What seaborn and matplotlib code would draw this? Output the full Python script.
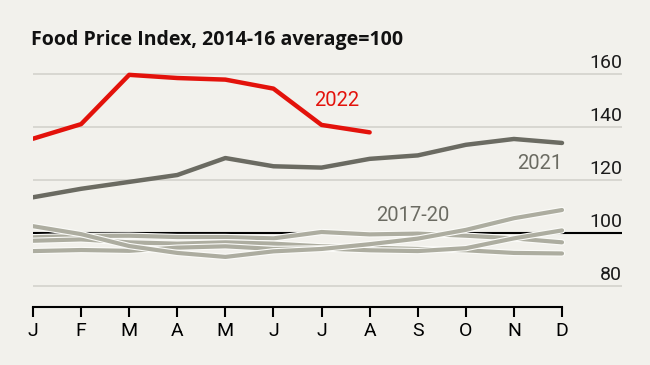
import pandas as pd
import numpy as np
import seaborn as sns
import matplotlib.pyplot as plt
import matplotlib.patheffects as pe

months = ['J', 'F', 'M', 'A', 'M', 'J', 'J', 'A', 'S', 'O', 'N', 'D']
y2022 = [135.6, 141.1, 159.7, 158.5, 157.9, 154.5, 140.8, 138.0]
y2021 = [113.5, 116.7, 119.3, 121.9, 128.3, 125.2, 124.7, 128.0, 129.3, 133.3, 135.5, 134.0]
y2020 = [102.6, 99.6, 95.1, 92.5, 91.0, 93.1, 94.0, 95.8, 97.9, 101.2, 105.6, 108.7]
y2019 = [93.2, 93.6, 93.3, 94.5, 95.0, 94.0, 94.2, 93.5, 93.2, 94.3, 98.0, 101.0]
y2018 = [97.1, 97.6, 96.5, 96.0, 96.5, 96.0, 95.0, 94.5, 94.0, 93.5, 92.5, 92.3]
y2017 = [98.4, 98.9, 99.0, 98.5, 98.5, 98.0, 100.4, 99.5, 99.8, 99.0, 98.0, 96.5]
yticks = [80, 100, 120, 140, 160]

bg = '#f2f1ec'
red = '#e3120b'
dark = '#6b6b62'
light = '#adada0'

# long form table for seaborn
rows = []
for name, vals in [('2017', y2017), ('2018', y2018), ('2019', y2019), ('2020', y2020),
                   ('2021', y2021), ('2022', y2022)]:
    for i, v in enumerate(vals):
        rows.append({'year': name, 'month': i, 'value': v})
data = pd.DataFrame(rows)

sns.set_style('white')
plt.rcParams['font.family'] = ['Roboto', 'DejaVu Sans']

fig = plt.figure(figsize=(6.5, 3.65), dpi=100, facecolor=bg)
ax = fig.add_axes([33 / 650, 1 - 307 / 365, (622 - 33) / 650, (307 - 60) / 365])
ax.set_facecolor(bg)

right = 11 + 60 / 48.1
ax.set_xlim(0, right)
ax.set_ylim(72.1, 165.3)

for t in yticks:
    if t == 100:
        ax.axhline(t, color='black', lw=1.5, zorder=2)
    else:
        ax.axhline(t, color='#d3d2cc', lw=1.2, zorder=1)
    ax.text(right, t + 0.9, str(t), ha='right', va='bottom', fontsize=14,
            color='#1a1a1a')

old = data[data['year'].isin(['2017', '2018', '2019', '2020'])]
sns.lineplot(data=old, x='month', y='value', units='year', estimator=None, color=light,
             lw=3, ax=ax, zorder=3,
             path_effects=[pe.Stroke(linewidth=4.6, foreground='#fbfbf8'), pe.Normal()])
sns.lineplot(data=data[data['year'] == '2021'], x='month', y='value', color=dark, lw=3.2,
             ax=ax, zorder=4)
sns.lineplot(data=data[data['year'] == '2022'], x='month', y='value', color=red, lw=3.2,
             ax=ax, zorder=5)

ax.text(6.32, 150.2, '2022', color=red, fontsize=14.5, ha='center', va='center')
ax.text(10.54, 126.4, '2021', color=dark, fontsize=14.5, ha='center', va='center')
ax.text(7.9, 106.8, '2017-20', color=dark, fontsize=14.5, ha='center', va='center')

for s in ['top', 'left', 'right']:
    ax.spines[s].set_visible(False)
ax.spines['bottom'].set_bounds(0, 11)
ax.spines['bottom'].set_color('black')
ax.spines['bottom'].set_linewidth(1.5)
ax.set_xticks(range(12))
ax.set_xticklabels(months)
ax.tick_params(axis='x', direction='out', length=7, width=1.5, pad=4, labelsize=14,
               bottom=True, colors='black')
ax.set_yticks([])
ax.set_xlabel('')
ax.set_ylabel('')

fig.text(31 / 650, 1 - 40 / 365, 'Food Price Index, 2014-16 average=100', fontsize=14,
         fontweight='bold', family=['Open Sans', 'DejaVu Sans'], va='center', ha='left',
         color='#111111')

fig.savefig('out.png', dpi=100, facecolor=bg)
